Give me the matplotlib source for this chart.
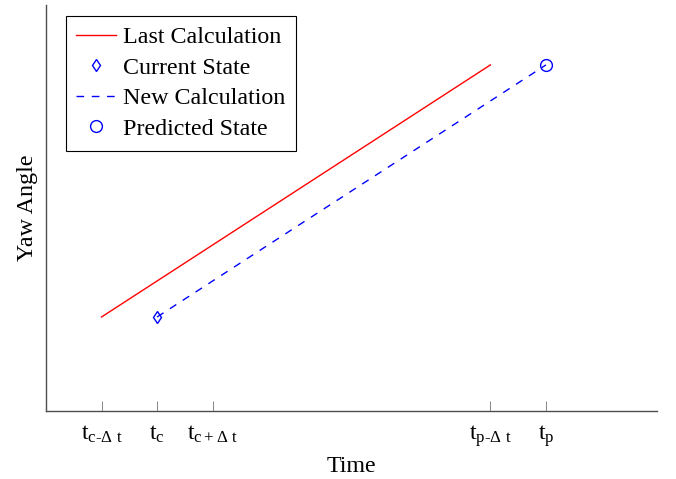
import numpy as np
import matplotlib.pyplot as plt

plt.rcParams['font.family'] = ['Liberation Serif', 'DejaVu Serif']
plt.rcParams['mathtext.fontset'] = 'custom'
plt.rcParams['mathtext.rm'] = 'Liberation Serif'
plt.rcParams['mathtext.it'] = 'Liberation Serif'
plt.rcParams['mathtext.sf'] = 'Liberation Serif'

# datos
lastX = [1, 8]
lastY = [1, 8]
newX = [2, 9]
newY = [1, 8]
currentX, currentY = [2], [1]
predictedX, predictedY = [9], [8]
tickPos = [1, 2, 3, 8, 9]
tickLab = ["t$_{\\mathrm{c\u2010\\Delta\\ t}}$", "t$_{\\mathrm{c}}$", "t$_{\\mathrm{c+\\Delta\\ t}}$",
           "t$_{\\mathrm{p\u2010\\Delta\\ t}}$", "t$_{\\mathrm{p}}$"]

fontsize = 17.3

fig = plt.figure(figsize=(6.76, 4.79), dpi=100)
ax = fig.add_axes([0.068, 0.142, 0.904, 0.848])

ax.plot(lastX, lastY, color='red', linewidth=1, label='Last Calculation')
ax.plot(currentX, currentY, linestyle='none', marker='d', markersize=6,
        markerfacecolor='none', markeredgecolor='blue', markeredgewidth=1, label='Current State')
ax.plot(newX, newY, color='blue', linestyle=(0, (5.5, 5.5)), linewidth=1, label='New Calculation')
ax.plot(predictedX, predictedY, linestyle='none', marker='o', markersize=8.5,
        markerfacecolor='none', markeredgecolor='blue', markeredgewidth=1, label='Predicted State')

ax.set_xlim(0, 11)
ax.set_ylim(-1.61, 9.67)
ax.set_xticks(tickPos)
ax.set_xticklabels(tickLab, fontsize=fontsize)
ax.set_yticks([])
ax.tick_params(axis='x', direction='in', length=7, width=0.6, color='0.45', pad=9)
for s in ['top', 'right']:
    ax.spines[s].set_visible(False)
for s in ['left', 'bottom']:
    ax.spines[s].set_color('0.3')
    ax.spines[s].set_linewidth(1)

ax.set_xlabel('Time', fontsize=fontsize, labelpad=5)
ax.set_ylabel('Yaw Angle', fontsize=fontsize, labelpad=6)

leg = ax.legend(loc='upper left', bbox_to_anchor=(0.032, 0.973), fontsize=fontsize,
                fancybox=False, edgecolor='black', framealpha=1,
                handlelength=1.65, labelspacing=0.36, borderpad=0.45, handletextpad=0.3,
                borderaxespad=0)
leg.get_frame().set_linewidth(0.8)

fig.savefig('out.png', dpi=100)
